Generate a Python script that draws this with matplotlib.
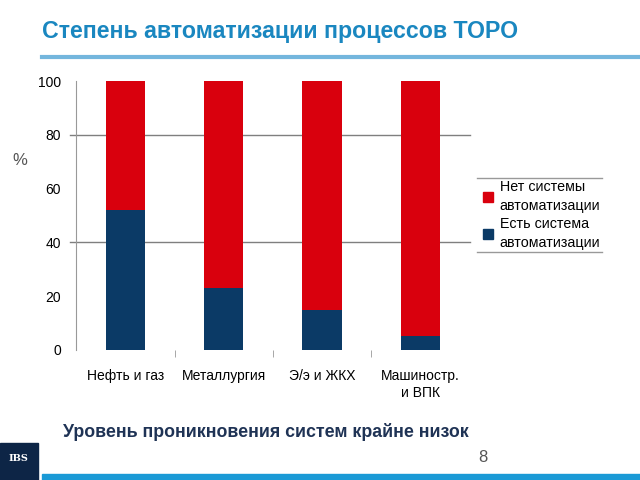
import numpy as np
import matplotlib.pyplot as plt
from matplotlib.patches import Rectangle
from matplotlib.lines import Line2D

plt.rcParams['font.family'] = ['Liberation Sans', 'DejaVu Sans']

categories = ['Нефть и газ', 'Металлургия', 'Э/э и ЖКХ', 'Машиностр.\nи ВПК']
has_system = [52, 23, 15, 5]
no_system = [48, 77, 85, 95]
series_names = ['Нет системы\nавтоматизации', 'Есть система\nавтоматизации']
yticks = [0, 20, 40, 60, 80, 100]

red = '#d9000d'
navy = '#0b3a66'

fig = plt.figure(figsize=(6.4, 4.8), dpi=100)
ax = fig.add_axes([0.119, 0.271, 0.615, 0.56])

x = np.arange(len(categories))
ax.bar(x, has_system, width=0.4, color=navy, zorder=3)
ax.bar(x, no_system, width=0.4, bottom=has_system, color=red, zorder=3)

ax.set_xlim(-0.5, len(categories) - 0.5)
ax.set_ylim(0, 100)
ax.set_yticks(yticks)
ax.tick_params(axis='y', length=0, pad=11, labelsize=10)
ax.set_xticks(x)
ax.set_xticklabels(categories, fontsize=10)
ax.tick_params(axis='x', length=0, pad=14)
ax.set_xticks(x[:-1] + 0.5, minor=True)
ax.tick_params(axis='x', which='minor', length=5, color='#999999')

for v in [40, 80]:
    ax.axhline(v, xmin=-0.016, xmax=1, color='#7f7f7f', lw=1, zorder=1, clip_on=False)

for s in ['top', 'right', 'bottom']:
    ax.spines[s].set_visible(False)
ax.spines['left'].set_color('#999999')

fig.text(0.02, 0.665, '%', fontsize=12, color='#555555', va='center')

# legend
handles = [Rectangle((0, 0), 1, 1, color=red), Rectangle((0, 0), 1, 1, color=navy)]
leg = fig.legend(handles, series_names, loc='upper left', bbox_to_anchor=(0.745, 0.636),
                 frameon=False, fontsize=10.3, handlelength=0.7, handleheight=0.7,
                 handletextpad=0.5, labelspacing=0.3, borderaxespad=0)
for t in leg.get_texts():
    t.set_linespacing(1.4)
fig.add_artist(Line2D([0.745, 0.94], [0.629, 0.629], color='#999999', lw=1))
fig.add_artist(Line2D([0.745, 0.94], [0.475, 0.475], color='#999999', lw=1))

# title and decorations
fig.text(0.066, 0.935, 'Степень автоматизации процессов ТОРО', fontsize=16.7,
         fontweight='bold', color='#1a87c0', va='center')
fig.add_artist(Line2D([0.066, 1.0], [0.881, 0.881], color='#74b6dd', lw=3))

fig.text(0.098, 0.1, 'Уровень проникновения систем крайне низок', fontsize=12.8,
         fontweight='bold', color='#1f3355', va='center')
fig.text(0.755, 0.046, '8', fontsize=12, color='#555555', va='center', ha='center')

fig.add_artist(Rectangle((0, 0), 0.059, 0.077, color='#0d2546', transform=fig.transFigure))
fig.text(0.0295, 0.045, 'IBS', fontsize=7, fontweight='bold', color='white',
         ha='center', va='center', family='DejaVu Serif')
fig.add_artist(Rectangle((0.066, 0), 0.934, 0.013, color='#1a9ad6', transform=fig.transFigure))

fig.savefig('out.png', dpi=100)
